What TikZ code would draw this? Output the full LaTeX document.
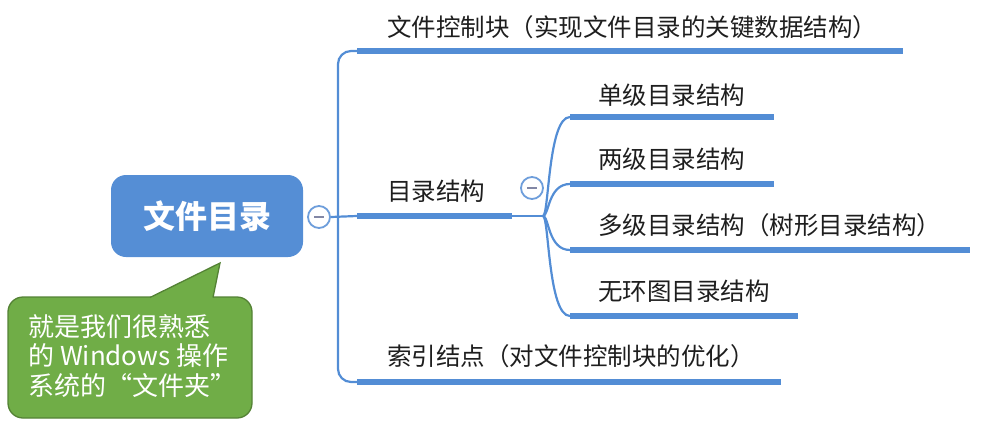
\documentclass[tikz,border=0pt]{standalone}
\usepackage{fontspec}
\setmainfont{Noto Sans CJK SC}
\usetikzlibrary{calc}
\definecolor{barblue}{RGB}{83,141,213}
\definecolor{rootblue}{RGB}{85,142,213}
\definecolor{togblue}{RGB}{110,158,219}
\definecolor{minusgray}{RGB}{130,135,165}
\definecolor{txt}{RGB}{30,30,30}
\definecolor{notegreen}{RGB}{112,173,71}
\definecolor{noteline}{RGB}{84,130,53}
\begin{document}
\begin{tikzpicture}[x=1pt,y=-1pt,
  bar/.style={line width=5.5pt, draw=barblue},
  trunk/.style={line width=2.2pt, draw=barblue},
  lbl/.style={anchor=west, inner sep=0pt, text=txt, font=\fontsize{24.5}{26}\selectfont},
  tog/.style={circle, draw=togblue, line width=1.8pt, fill=white, minimum size=22pt, inner sep=0pt},
  minus/.style={line width=1.8pt, draw=minusgray},
  rootbox/.style={rounded corners=15pt, fill=rootblue, minimum width=192pt, minimum height=82pt, text=white, inner sep=0pt, font=\bfseries\fontsize{32}{34}\selectfont},
  notebox/.style={rounded corners=15pt, fill=notegreen, draw=noteline, line width=1.3pt, minimum width=244pt, minimum height=121pt, inner sep=0pt},
  notetxt/.style={anchor=west, inner sep=0pt, text=white, font=\fontsize{26}{28}\selectfont}
]
\useasboundingbox (0,0) rectangle (982,444);

% root
\node[rootbox] (root) at (207,216) {文件目录};
\node[tog] (c1) at (319,217) {};
\draw[minus] ([xshift=-5pt]c1.center) -- ([xshift=5pt]c1.center);

% main trunk
\coordinate (t1) at (357,51);
\coordinate (e1) at (903,51);
\coordinate (t2) at (357,216);
\coordinate (e2) at (512,216);
\coordinate (t3) at (357,382);
\coordinate (e3) at (781,382);
\coordinate (tk) at (338,216);
\draw[trunk, rounded corners=13pt] (t1) -| (tk) |- (t3);
\draw[trunk] (c1.east) -- (t2);
\draw[bar] (t1) -- (e1);
\draw[bar] (t2) -- (e2);
\draw[bar] (t3) -- (e3);

\node[lbl] (l1) at (387,27) {文件控制块（实现文件目录的关键数据结构）};
\node[lbl] (l2) at (387,191) {目录结构};
\node[lbl] (l3) at (387,356) {索引结点（对文件控制块的优化）};

% sub branches
\coordinate (j) at (543,216);
\draw[trunk] (e2) -- (j);
\coordinate (s1) at (570,117);
\coordinate (f1) at (774,117);
\coordinate (s2) at (570,184);
\coordinate (f2) at (774,184);
\coordinate (s3) at (570,250);
\coordinate (f3) at (970,250);
\coordinate (s4) at (570,316);
\coordinate (f4) at (798,316);
\foreach \s in {s1,s2,s3,s4}{
  \draw[trunk] (j) .. controls ($(j)+(6,0)$) and ($(\s)+(-22,0)$) .. (\s);
}
\draw[bar] (s1) -- (f1);
\draw[bar] (s2) -- (f2);
\draw[bar] (s3) -- (f3);
\draw[bar] (s4) -- (f4);
\node[tog] (c2) at (532,188) {};
\draw[minus] ([xshift=-5pt]c2.center) -- ([xshift=5pt]c2.center);

\node[lbl] (m1) at (598,95) {单级目录结构};
\node[lbl] (m2) at (598,159) {两级目录结构};
\node[lbl] (m3) at (598,225) {多级目录结构（树形目录结构）};
\node[lbl] (m4) at (598,291) {无环图目录结构};

% callout
\node[notebox] (note) at (130,357.5) {};
\coordinate (tip) at (220,263);
\coordinate (pl) at (150,297.5);
\coordinate (pr) at (213,297.5);
\fill[notegreen] ($(pl)+(-1,4)$) -- (pl) -- (tip) -- (pr) -- ($(pr)+(1,4)$) -- cycle;
\draw[noteline, line width=1.3pt, line join=miter] (pl) -- (tip) -- (pr);
\node[notetxt] (n1) at (28,327) {就是我们很熟悉};
\node[notetxt] (n2) at (28,356) {的 Windows 操作};
\node[notetxt] (n3) at (28,386) {系统的“文件夹”};
\end{tikzpicture}
\end{document}
